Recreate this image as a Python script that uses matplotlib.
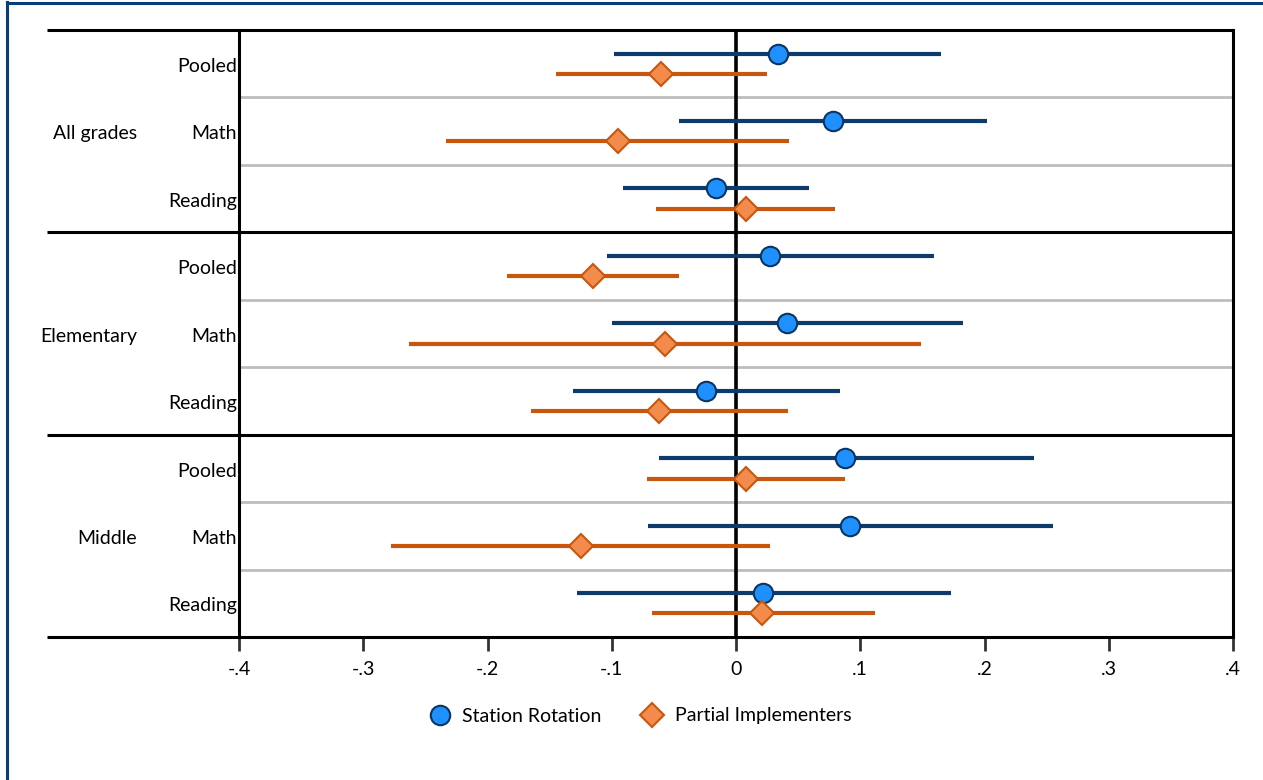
import matplotlib
matplotlib.use("Agg")
import matplotlib.pyplot as plt
from matplotlib.lines import Line2D
import numpy as np

plt.rcParams['font.family'] = ['Lato', 'DejaVu Sans']

groups = ["All grades", "Elementary", "Middle"]
subjects = ["Pooled", "Math", "Reading"]

# Station Rotation: estimate, lower CI, upper CI (row order: group x subject)
sr_est = [0.034, 0.078, -0.016, 0.027, 0.041, -0.024, 0.088, 0.092, 0.022]
sr_lo = [-0.098, -0.046, -0.091, -0.104, -0.100, -0.131, -0.062, -0.071, -0.128]
sr_hi = [0.165, 0.202, 0.059, 0.159, 0.183, 0.084, 0.240, 0.255, 0.173]

# Partial Implementers
pi_est = [-0.060, -0.095, 0.008, -0.115, -0.057, -0.062, 0.008, -0.125, 0.021]
pi_lo = [-0.145, -0.233, -0.064, -0.184, -0.263, -0.165, -0.072, -0.278, -0.068]
pi_hi = [0.025, 0.043, 0.080, -0.046, 0.149, 0.042, 0.088, 0.027, 0.112]

xticks = [-0.4, -0.3, -0.2, -0.1, 0.0, 0.1, 0.2, 0.3, 0.4]
xticklabels = ["-.4", "-.3", "-.2", "-.1", "0", ".1", ".2", ".3", ".4"]

FS = 14

W, H = 1263, 780
fig = plt.figure(figsize=(W / 100, H / 100), dpi=100)
ax_l, ax_r, ax_t, ax_b = 239, 1233, 30, 637
ax = fig.add_axes([ax_l / W, 1 - ax_b / H, (ax_r - ax_l) / W, (ax_b - ax_t) / H])

n = len(sr_est)
ax.set_xlim(-0.4, 0.4)
ax.set_ylim(n, 0)

blue_line = "#0D3B6B"
blue_fill = "#1E90FF"
blue_edge = "#0B3560"
or_line = "#C9560F"
or_fill = "#F28B4B"
or_edge = "#C7570F"

off = 0.15
centers = np.arange(n) + 0.5

# gray row separators
for i in range(1, n):
    if i % 3 != 0:
        ax.axhline(i, color="#BDBDBD", lw=2, zorder=1)

# zero line
ax.axvline(0, color="black", lw=2.6, zorder=2)

for i in range(n):
    y = centers[i] - off
    ax.plot([sr_lo[i], sr_hi[i]], [y, y], color=blue_line, lw=3, zorder=3, solid_capstyle="butt")
    y2 = centers[i] + off
    ax.plot([pi_lo[i], pi_hi[i]], [y2, y2], color=or_line, lw=3, zorder=3, solid_capstyle="butt")

ax.plot(sr_est, centers - off, "o", ms=14, mfc=blue_fill, mec=blue_edge, mew=1.5, zorder=5, linestyle="none")
ax.plot(pi_est, centers + off, "D", ms=12, mfc=or_fill, mec=or_edge, mew=1.5, zorder=5, linestyle="none")

# group separator lines, extending into label area
x_ext = (47 - ax_l) / (ax_r - ax_l)
for g in range(len(groups) + 1):
    ax.plot([x_ext, 1], [g * 3, g * 3], color="black", lw=2.2,
            transform=ax.get_yaxis_transform(), clip_on=False, zorder=6, solid_capstyle="butt")

for side in ["left", "right"]:
    ax.spines[side].set_linewidth(2.2)
    ax.spines[side].set_color("black")
ax.spines["top"].set_visible(False)
ax.spines["bottom"].set_visible(False)

ax.set_xticks(xticks)
ax.set_xticklabels(xticklabels, fontsize=FS)
ax.tick_params(axis="x", direction="out", length=10, width=2, color="#333333", pad=7)
ax.set_yticks([])

# subgroup labels
ydn = 0.04
for i in range(n):
    ax.text(-0.002, centers[i] + ydn, subjects[i % 3], transform=ax.get_yaxis_transform(),
            ha="right", va="center", fontsize=FS)
# group labels
x_grp = (137 - ax_l) / (ax_r - ax_l)
for g, name in enumerate(groups):
    ax.text(x_grp, g * 3 + 1.5 + ydn, name, transform=ax.get_yaxis_transform(),
            ha="right", va="center", fontsize=FS)

handles = [
    Line2D([], [], marker="o", ms=14, mfc=blue_fill, mec=blue_edge, mew=1.5, linestyle="none"),
    Line2D([], [], marker="D", ms=12, mfc=or_fill, mec=or_edge, mew=1.5, linestyle="none"),
]
fig.legend(handles, ["Station Rotation", "Partial Implementers"], loc="center",
           bbox_to_anchor=(636 / W, 1 - 716 / H), ncol=2, frameon=False, fontsize=FS,
           handletextpad=0.15, columnspacing=1.6, handlelength=2.0)

# figure border (left and top visible)
border = "#0B3D7A"
fig.add_artist(Line2D([6.5 / W, 6.5 / W], [0, 1 - 2 / H], color=border, lw=2.2, transform=fig.transFigure))
fig.add_artist(Line2D([6.5 / W, 1], [1 - 2.5 / H, 1 - 2.5 / H], color=border, lw=2.2, transform=fig.transFigure))

fig.savefig("out.png", dpi=100)
